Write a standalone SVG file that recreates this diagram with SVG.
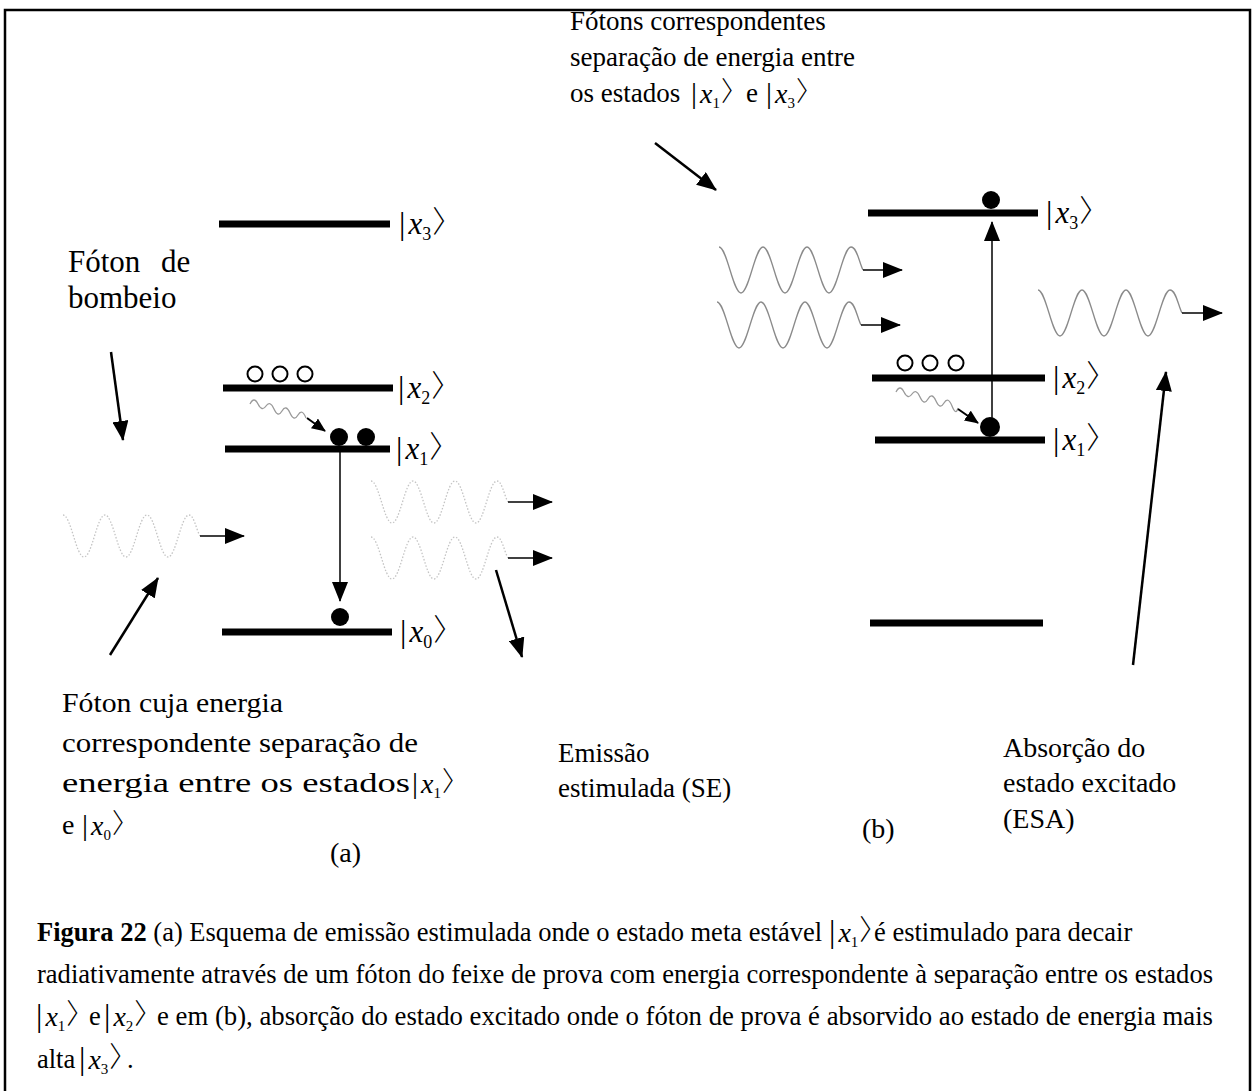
<svg xmlns="http://www.w3.org/2000/svg" xmlns:xlink="http://www.w3.org/1999/xlink" width="1256" height="1091" viewBox="0 0 1256 1091">
<style>
text{font-family:"Liberation Serif","Times New Roman",serif;fill:#000}
.lbl{font-size:27px}
.lbl2{font-size:28px}
.big{font-size:31px}
.cap{font-size:26.5px}
.level{stroke:#000;stroke-width:7;fill:none}
.ptr{stroke:#000;stroke-width:2.5;fill:none;marker-end:url(#ah)}
.thin{stroke:#000;stroke-width:1.5;fill:none;marker-end:url(#ah)}
.small{stroke:#000;stroke-width:2;fill:none;marker-end:url(#ahs)}
.wsolid{stroke:#8a8a8a;stroke-width:1.3;fill:none}
.wfaint{stroke:#c4c4c4;stroke-width:1.3;fill:none;stroke-dasharray:1.5 1.8}
.wig{stroke:#9a9a9a;stroke-width:1.3;fill:none}
.open{fill:#fff;stroke:#000;stroke-width:2}
.dot{fill:#000}
.xi{font-style:italic}
.br{font-family:"Noto Sans CJK JP","Noto Sans CJK SC",sans-serif;font-weight:300;letter-spacing:-15px}
</style>
<defs>
<marker id="ah" viewBox="0 0 20 16" refX="19" refY="8" markerWidth="20" markerHeight="16" markerUnits="userSpaceOnUse" orient="auto"><path d="M0,0 L20,8 L0,16 z" fill="#000"/></marker>
<marker id="ahs" viewBox="0 0 14 12" refX="13" refY="6" markerWidth="14" markerHeight="12" markerUnits="userSpaceOnUse" orient="auto"><path d="M0,0 L14,6 L0,12 z" fill="#000"/></marker>
<path id="waveR" d="M0,0 C8,0 14,46 22,46 S36,0 44,0 S58,46 66,46 S80,0 88,0 S102,46 110,46 S124,0 132,0 C138,0 140,15 144,23"/>
<path id="waveL" d="M0,0 C8,0 13,42 21,42 S34,0 42,0 S55,42 63,42 S76,0 84,0 S97,42 105,42 S118,0 126,0 C131,0 133,14 137,21"/>
</defs>

<rect x="5" y="10" width="1245" height="1100" fill="none" stroke="#000" stroke-width="2.5"/>

<!-- Panel (a) levels -->
<g id="a-x3"><line class="level" x1="219" y1="224" x2="390" y2="224"/>
<text x="399" y="234"><tspan font-size="32">|</tspan><tspan class="xi" font-size="31" dx="3">x</tspan><tspan font-size="18" dy="6">3</tspan><tspan class="br" font-size="30" dy="-8" dx="1">〉</tspan></text></g>
<g id="a-x2"><line class="level" x1="223" y1="388" x2="393" y2="388"/>
<circle class="open" cx="255" cy="374" r="7.5"/><circle class="open" cx="280" cy="374" r="7.5"/><circle class="open" cx="305" cy="374" r="7.5"/>
<text x="398" y="398"><tspan font-size="32">|</tspan><tspan class="xi" font-size="31" dx="3">x</tspan><tspan font-size="18" dy="6">2</tspan><tspan class="br" font-size="30" dy="-8" dx="1">〉</tspan></text></g>
<g id="a-x1"><line class="level" x1="225" y1="449" x2="390" y2="449"/>
<circle class="dot" cx="339" cy="437" r="9"/><circle class="dot" cx="366" cy="437" r="9"/>
<text x="396" y="459"><tspan font-size="32">|</tspan><tspan class="xi" font-size="31" dx="3">x</tspan><tspan font-size="18" dy="6">1</tspan><tspan class="br" font-size="30" dy="-8" dx="1">〉</tspan></text></g>
<g id="a-x0"><line class="level" x1="222" y1="632" x2="392" y2="632"/>
<circle class="dot" cx="340" cy="617" r="9"/>
<text x="400" y="642"><tspan font-size="32">|</tspan><tspan class="xi" font-size="31" dx="3">x</tspan><tspan font-size="18" dy="6">0</tspan><tspan class="br" font-size="30" dy="-8" dx="1">〉</tspan></text></g>

<!-- Panel (b) levels -->
<g id="b-x3"><line class="level" x1="868" y1="213" x2="1038" y2="213"/>
<circle class="dot" cx="991" cy="200" r="9"/>
<text x="1046" y="223"><tspan font-size="32">|</tspan><tspan class="xi" font-size="31" dx="3">x</tspan><tspan font-size="18" dy="6">3</tspan><tspan class="br" font-size="30" dy="-8" dx="1">〉</tspan></text></g>
<g id="b-x2"><line class="level" x1="872" y1="378" x2="1045" y2="378"/>
<circle class="open" cx="905" cy="363" r="7.5"/><circle class="open" cx="930" cy="363" r="7.5"/><circle class="open" cx="956" cy="363" r="7.5"/>
<text x="1053" y="388"><tspan font-size="32">|</tspan><tspan class="xi" font-size="31" dx="3">x</tspan><tspan font-size="18" dy="6">2</tspan><tspan class="br" font-size="30" dy="-8" dx="1">〉</tspan></text></g>
<g id="b-x1"><line class="level" x1="875" y1="440" x2="1045" y2="440"/>
<circle class="dot" cx="990" cy="427" r="10"/>
<text x="1053" y="450"><tspan font-size="32">|</tspan><tspan class="xi" font-size="31" dx="3">x</tspan><tspan font-size="18" dy="6">1</tspan><tspan class="br" font-size="30" dy="-8" dx="1">〉</tspan></text></g>
<g id="b-x0"><line class="level" x1="870" y1="623" x2="1043" y2="623"/></g>

<!-- Photons (waves) -->
<g id="waves">
<use href="#waveL" class="wfaint" x="63" y="515"/>
<use href="#waveL" class="wfaint" x="371" y="481"/>
<use href="#waveL" class="wfaint" x="371" y="537"/>
<use href="#waveR" class="wsolid" x="719" y="247"/>
<use href="#waveR" class="wsolid" x="717" y="302"/>
<use href="#waveR" class="wsolid" x="1038" y="290"/>
<path class="wig" d="M250,404 Q254,396 258,404 T266,406 T274,409 T282,411 T290,413 T298,415 T306,418"/>
<path class="wig" d="M896,392 Q900,384 904,392 T912,394 T920,397 T928,399 T936,401 T944,403 T952,406 T958,408"/>
</g>

<!-- Connectors -->
<g id="connectors">
<line class="thin" x1="340" y1="449" x2="340" y2="601"/>
<line class="thin" x1="992" y1="427" x2="992" y2="222"/>
<line class="small" x1="307" y1="418" x2="325" y2="431"/>
<line class="small" x1="958" y1="409" x2="978" y2="423"/>
<line class="thin" x1="200" y1="536" x2="244" y2="536"/>
<line class="thin" x1="508" y1="502" x2="552" y2="502"/>
<line class="thin" x1="508" y1="558" x2="552" y2="558"/>
<line class="thin" x1="863" y1="270" x2="902" y2="270"/>
<line class="thin" x1="861" y1="325" x2="900" y2="325"/>
<line class="thin" x1="1182" y1="313" x2="1222" y2="313"/>
<line class="ptr" x1="111" y1="352" x2="123" y2="440"/>
<line class="ptr" x1="110" y1="655" x2="158" y2="578"/>
<line class="ptr" x1="496" y1="570" x2="522" y2="657"/>
<line class="ptr" x1="655" y1="143" x2="716" y2="190"/>
<line class="ptr" x1="1133" y1="665" x2="1166" y2="372"/>
</g>

<!-- Labels -->
<g id="labels">
<text class="big" x="68" y="272">Fóton</text><text class="big" x="161" y="272">de</text>
<text class="big" x="68" y="308">bombeio</text>
<text class="lbl" x="570" y="30">Fótons correspondentes</text>
<text class="lbl" x="570" y="66">separação de energia entre</text>
<text class="lbl" x="570" y="102">os estados</text>
<text x="691" y="103"><tspan font-size="30">|</tspan><tspan class="xi" font-size="28" dx="3">x</tspan><tspan font-size="15" dy="5">1</tspan><tspan class="br" font-size="27" dy="-7" dx="1">〉</tspan></text>
<text class="lbl" x="746" y="102">e</text>
<text x="766" y="103"><tspan font-size="30">|</tspan><tspan class="xi" font-size="28" dx="3">x</tspan><tspan font-size="15" dy="5">3</tspan><tspan class="br" font-size="27" dy="-7" dx="1">〉</tspan></text>
<text class="lbl2" x="62" y="712" textLength="221" lengthAdjust="spacingAndGlyphs">Fóton cuja energia</text>
<text class="lbl2" x="62" y="752" textLength="356" lengthAdjust="spacingAndGlyphs">correspondente separação de</text>
<text class="lbl2" x="62" y="792" textLength="348" lengthAdjust="spacingAndGlyphs">energia entre os estados</text>
<text x="412" y="793"><tspan font-size="30">|</tspan><tspan class="xi" font-size="28" dx="3">x</tspan><tspan font-size="15" dy="5">1</tspan><tspan class="br" font-size="27" dy="-7" dx="1">〉</tspan></text>
<text class="lbl2" x="62" y="834">e</text>
<text x="82" y="835"><tspan font-size="30">|</tspan><tspan class="xi" font-size="28" dx="3">x</tspan><tspan font-size="15" dy="5">0</tspan><tspan class="br" font-size="27" dy="-7" dx="1">〉</tspan></text>
<text class="lbl" x="558" y="762">Emissão</text>
<text class="lbl" x="558" y="797">estimulada (SE)</text>
<text class="lbl2" x="1003" y="757">Absorção do</text>
<text class="lbl2" x="1003" y="792">estado excitado</text>
<text class="lbl2" x="1003" y="828">(ESA)</text>
<text class="lbl2" x="330" y="862">(a)</text>
<text class="lbl2" x="862" y="838">(b)</text>
</g>

<!-- Caption -->
<g id="caption">
<text class="cap" x="37" y="941"><tspan font-weight="bold">Figura 22</tspan> (a) Esquema de emissão estimulada onde o estado meta estável</text>
<text x="829" y="942"><tspan font-size="32">|</tspan><tspan class="xi" font-size="28" dx="3">x</tspan><tspan font-size="15" dy="5">1</tspan><tspan class="br" font-size="28" dy="-7" dx="1">〉</tspan></text>
<text class="cap" x="874" y="941">é estimulado para decair</text>
<text class="cap" x="37" y="983" textLength="1176" lengthAdjust="spacingAndGlyphs">radiativamente através de um fóton do feixe de prova com energia correspondente à separação entre os estados</text>
<text x="36" y="1026"><tspan font-size="32">|</tspan><tspan class="xi" font-size="28" dx="3">x</tspan><tspan font-size="15" dy="5">1</tspan><tspan class="br" font-size="28" dy="-7" dx="1">〉</tspan></text>
<text class="cap" x="89" y="1025">e</text>
<text x="104" y="1026"><tspan font-size="32">|</tspan><tspan class="xi" font-size="28" dx="3">x</tspan><tspan font-size="15" dy="5">2</tspan><tspan class="br" font-size="28" dy="-7" dx="1">〉</tspan></text>
<text class="cap" x="157" y="1025" textLength="1056" lengthAdjust="spacingAndGlyphs">e em (b), absorção do estado excitado onde o fóton de prova é absorvido ao estado de energia mais</text>
<text class="cap" x="37" y="1068">alta</text>
<text x="79" y="1069"><tspan font-size="32">|</tspan><tspan class="xi" font-size="28" dx="3">x</tspan><tspan font-size="15" dy="5">3</tspan><tspan class="br" font-size="28" dy="-7" dx="1">〉</tspan></text>
<text class="cap" x="127" y="1068">.</text>
</g>
</svg>
